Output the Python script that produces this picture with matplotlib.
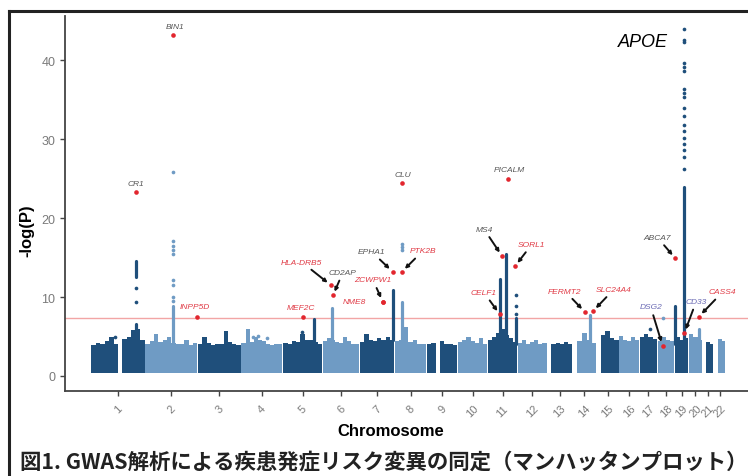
import numpy as np
import matplotlib.pyplot as plt
from matplotlib.lines import Line2D

plt.rcParams['font.family'] = ['Liberation Sans', 'DejaVu Sans']

# ---------------------------------------------------------------
# Data
# ---------------------------------------------------------------
CHROMS = [str(i) for i in range(1, 23)]
CHR_LEN = [249, 243, 198, 191, 181, 171, 159, 146, 141, 136, 135,
           134, 115, 107, 103, 90, 81, 78, 59, 63, 48, 51]   # Mb
GAP = 4  # Mb between chromosomes

# skyline of the background cloud (-log P tops, equal-width bins per chromosome)
BAND_TOPS = [
    [3.9, 4.2, 4.0, 4.4, 5.0, 4.0, 0.0, 4.7, 4.9, 5.8, 6.0, 4.6],
    [4.1, 4.4, 5.3, 4.3, 4.6, 4.9, 4.2, 4.0, 4.1, 4.6, 3.9, 4.2],
    [4.0, 5.0, 4.2, 3.9, 4.0, 4.1, 5.7, 4.3, 4.0, 3.9],
    [4.2, 6.0, 4.3, 5.0, 4.6, 4.4, 4.0, 3.9, 4.1, 4.0],
    [4.2, 4.0, 4.4, 4.3, 5.3, 4.5, 4.6, 4.3, 4.0],
    [4.4, 4.8, 4.6, 4.3, 4.2, 5.0, 4.4, 4.1, 4.0],
    [4.3, 5.3, 4.6, 4.4, 4.8, 4.5, 5.0, 4.6],
    [4.4, 4.6, 6.2, 4.3, 4.5, 4.1, 4.0],
    [4.0, 4.2, 0.0, 4.4, 4.1, 4.0, 3.9],
    [4.3, 4.6, 5.0, 4.4, 4.2, 4.8, 4.1],
    [4.6, 5.0, 5.4, 6.0, 5.2, 4.8, 4.3],
    [4.2, 4.5, 4.1, 4.3, 4.6, 4.0, 4.2],
    [0.0, 4.0, 4.2, 4.1, 4.3, 4.0],
    [0.0, 4.4, 5.5, 4.6, 4.2],
    [0.0, 5.2, 5.7, 4.8, 4.5],
    [5.1, 4.6, 4.4, 4.9, 4.5],
    [4.9, 5.3, 5.0, 4.7],
    [4.4, 5.0, 4.6, 4.4],
    [5.0, 4.6, 4.8],
    [5.3, 4.9, 4.5],
    [0.0, 4.3, 4.1],
    [0.0, 4.7, 4.4],
]
BAND_BASE = 0.35

# dense stacks of SNPs at loci: (chromosome, position Mb, lowest, highest)
PEAK_CHR = [1, 1, 2, 5, 6, 7, 8, 11, 11, 11, 14, 19, 19, 20]
PEAK_POS = [207.7, 207.7, 127.8, 144, 43, 153, 31, 55, 83, 132, 80, 1, 42, 47]
PEAK_LO = [4.0, 12.6, 4.0, 4.0, 4.0, 4.5, 4.0, 4.0, 4.0, 4.0, 4.0, 4.0, 4.0, 4.0]
PEAK_HI = [6.6, 14.6, 8.9, 7.2, 8.6, 10.9, 9.4, 12.3, 15.4, 7.3, 7.7, 8.9, 23.9, 6.0]

# isolated SNP dots: (chromosome, position Mb, -log P values)
DOT_CHR = [1, 2, 8, 11, 19, 18, 1, 5, 4, 4, 4, 17]
DOT_POS = [207.7, 127.8, 31, 132, 42, 23, 110, 88, 54, 77, 119, 49]
DOT_VALS = [
    [9.4, 11.1],
    [9.5, 10.0, 11.5, 12.2, 15.4, 15.9, 16.5, 17.1, 25.8],
    [15.9, 16.3, 16.7],
    [7.8, 8.9, 10.3],
    [26.2, 27.8, 28.6, 29.4, 30.2, 31.0, 31.8, 32.9, 34.0, 35.4, 35.9,
     36.3, 38.6, 39.1, 39.7, 42.3, 42.6, 43.9],
    [7.3],
    [5.0],
    [5.1, 5.6],
    [4.9],
    [5.1],
    [4.8],
    [5.9],
]

# annotated lead variants
GENES = ['BIN1', 'CR1', 'CLU', 'PICALM', 'INPP5D', 'MEF2C', 'NME8',
         'HLA-DRB5', 'CD2AP', 'EPHA1', 'PTK2B', 'ZCWPW1', 'MS4', 'SORL1',
         'CELF1', 'FERMT2', 'SLC24A4', 'ABCA7', 'DSG2', 'CD33', 'CASS4']
GENE_CHR = [2, 1, 8, 11, 2, 5, 7, 6, 6, 7, 8, 7, 11, 11, 11, 14, 14, 19, 18, 19, 20]
GENE_POS = [127.8, 207.7, 31.5, 93, 240.8, 92, 106, 38, 47.5, 152, 32, 106,
            65, 125.5, 55, 56.7, 94, 0.5, 23, 42, 46.7]
GENE_LOGP = [43.2, 23.3, 24.4, 24.9, 7.5, 7.5, 9.4, 11.5, 10.2, 13.2, 13.2,
             9.4, 15.2, 13.9, 7.8, 8.1, 8.2, 14.9, 3.8, 5.4, 7.5]
GENE_GROUP = ['known', 'known', 'known', 'known', 'new', 'new', 'new', 'new',
              'known', 'known', 'new', 'new', 'known', 'new', 'new', 'new',
              'new', 'known', 'other', 'other', 'new']

SIG_LINE = 7.3
YTICKS = [0, 10, 20, 30, 40]
CAPTION = '図1. GWAS解析による疾患発症リスク変異の同定（マンハッタンプロット）'

# ---------------------------------------------------------------
# Layout / style
# ---------------------------------------------------------------
DARK = '#1f4f7b'
LIGHT = '#6f9bc4'
HIT_RED = '#e2262e'
LABEL_COLORS = {'known': '#555555', 'new': '#e03a45', 'other': '#6a6ab4'}
# label offsets in points relative to the point, and whether an arrow is drawn
LABEL_OFFSETS = {
    'BIN1': (1.4, 5.8, False), 'CR1': (0, 5.8, False), 'CLU': (0.7, 6.5, False),
    'PICALM': (0.7, 7.2, False), 'INPP5D': (-1.4, 7.2, False),
    'MEF2C': (-1.4, 6.5, False), 'NME8': (-12.5, 0, False),
    'HLA-DRB5': (-20.9, 16.6, True), 'CD2AP': (7.2, 16.6, True),
    'EPHA1': (-15.1, 14.4, True), 'PTK2B': (15.1, 15.1, True),
    'ZCWPW1': (-7.2, 15.8, True), 'MS4': (-13, 19.4, True),
    'SORL1': (12.2, 15.8, True), 'CELF1': (-11.5, 15.8, True),
    'FERMT2': (-14.4, 15.1, True), 'SLC24A4': (15.1, 15.8, True),
    'ABCA7': (-13, 15.1, True), 'DSG2': (-8.6, 28.1, True),
    'CD33': (8.6, 23, True), 'CASS4': (17.3, 18, True),
}

starts = np.concatenate([[0], np.cumsum(np.array(CHR_LEN) + GAP)[:-1]])


def gpos(chrom, pos):
    return starts[chrom - 1] + pos


def chr_color(chrom):
    return DARK if chrom % 2 == 1 else LIGHT


W, H = 748, 477
fig = plt.figure(figsize=(W / 100, H / 100), dpi=100)
ax = fig.add_axes([65 / W, (H - 392) / H, 1 - 65 / W, (392 - 17) / H])

# background cloud
for i, tops in enumerate(BAND_TOPS):
    tops = np.array(tops)
    n = len(tops)
    w = CHR_LEN[i] / n
    xs = starts[i] + (np.arange(n) + 0.5) * w
    keep = tops > 0
    ax.bar(xs[keep], tops[keep] - BAND_BASE, bottom=BAND_BASE, width=w * 1.02,
           color=chr_color(i + 1), edgecolor='none', zorder=2)

# dense loci
for c, p, lo, hi in zip(PEAK_CHR, PEAK_POS, PEAK_LO, PEAK_HI):
    ax.vlines(gpos(c, p), lo, hi, colors=chr_color(c), linewidth=2.3,
              capstyle='round', zorder=3)

# isolated dots
for c, p, vals in zip(DOT_CHR, DOT_POS, DOT_VALS):
    ax.scatter([gpos(c, p)] * len(vals), vals, s=7, color=chr_color(c),
               linewidths=0, zorder=3)

ax.axhline(SIG_LINE, color='#f2a5a5', lw=1.0, zorder=1)

# hits + labels
for g, c, p, y, grp in zip(GENES, GENE_CHR, GENE_POS, GENE_LOGP, GENE_GROUP):
    x = gpos(c, p)
    ax.scatter([x], [y], s=11, color=HIT_RED, linewidths=0, zorder=6)
    dx, dy, arrow = LABEL_OFFSETS[g]
    ha = 'right' if g == 'NME8' else 'center'
    props = None
    if arrow:
        props = dict(arrowstyle='-|>', color='#111111', lw=1.4,
                     mutation_scale=5, shrinkA=1.5, shrinkB=3)
    ax.annotate(g, xy=(x, y), xytext=(dx, dy), textcoords='offset points',
                ha=ha, va='center', fontsize=6, style='italic',
                color=LABEL_COLORS[grp], arrowprops=props, zorder=7)

# APOE label next to the tall chr19 column
ax.annotate('APOE', xy=(gpos(19, 42), 44), xytext=(-30, -9),
            textcoords='offset points', ha='center', va='center',
            fontsize=13, style='italic', color='black')

# axes
centers = starts + np.array(CHR_LEN) / 2
ax.set_xticks(centers)
ax.set_xticklabels(CHROMS, rotation=45, ha='center', va='top')
ax.set_yticks(YTICKS)
ax.set_xlim(-123, 3070)
ax.set_ylim(-1.9, 45.6)
for side in ['top', 'right']:
    ax.spines[side].set_visible(False)
for side in ['left', 'bottom']:
    ax.spines[side].set_color('#444444')
    ax.spines[side].set_linewidth(1.3)
ax.tick_params(axis='both', colors='#444444', labelcolor='#7a7a7a',
               length=3.5, width=1.0, labelsize=9)
ax.tick_params(axis='x', labelsize=8, pad=5)

fig.text(391 / W, 1 - 432 / H, 'Chromosome', ha='center', va='center',
         fontsize=12, fontweight='bold')
fig.text(27 / W, 1 - 231 / H, '-log(P)', ha='center', va='center',
         rotation=90, fontsize=12, fontweight='bold')
fig.text(20 / W, 1 - 462 / H, CAPTION, ha='left', va='center', fontsize=15.4,
         fontweight='bold', color='#222222',
         family=['Noto Sans CJK JP', 'DejaVu Sans'])

# outer frame (cropped figure border)
fig.add_artist(Line2D([9 / W, 9 / W], [0, 1 - 12 / H], color='#222222', lw=2.2))
fig.add_artist(Line2D([9 / W, 1], [1 - 12 / H, 1 - 12 / H], color='#222222', lw=2.2))

fig.savefig('out.png', dpi=100)
